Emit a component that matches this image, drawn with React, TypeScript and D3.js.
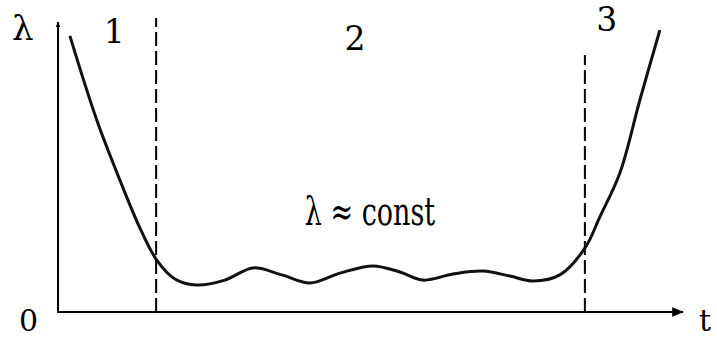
import React from 'react'
import * as d3 from 'd3'

// bathtub curve: failure rate λ over time t
const tValues = [1.9, 6.2, 9.9, 13.1, 15.8, 18.7, 22.2, 26.7, 31.2, 35.8, 40.3, 45.1, 50.4, 54.7, 58.4, 63.2, 68, 72.3, 76, 80.3, 84.3, 86.7, 89.9, 93.1, 96.3]
const lambdaValues = [95.2, 66.2, 45.5, 29, 17.9, 11.4, 9.3, 11, 15.2, 12.8, 10, 13.4, 15.9, 13.8, 11, 13.1, 14.1, 12.4, 10.7, 12.8, 22, 32.8, 47.9, 73.1, 97.2]

// period boundaries and labels
const boundaries = [15.7, 84.3]
const boundaryTops = [101.4, 88.6]
const periodLabels = ['1', '2', '3']
const periodLabelT = [9, 47.5, 87.8]
const periodLabelLambda = [92.8, 90.3, 96.9]

const width = 717
const height = 338

const App = () => {
  const x = d3.scaleLinear().domain([0, 100]).range([58, 683])
  const y = d3.scaleLinear().domain([0, 100]).range([312, 22])

  const points: [number, number][] = tValues.map((t, i) => [t, lambdaValues[i]])
  const line = d3
    .line<[number, number]>()
    .x((d) => x(d[0]))
    .y((d) => y(d[1]))
    .curve(d3.curveCatmullRom.alpha(0.5))

  const serif = 'DejaVu Serif'

  return (
    <svg
      width={width}
      height={height}
      style={{ position: 'absolute', left: 0, top: 0, background: '#fff' }}
    >
      <defs>
        <marker id="arr" viewBox="0 0 10 10" refX="9" refY="5" markerWidth="6" markerHeight="6" orient="auto">
          <path d="M0,1 L10,5 L0,9 Z" fill="#000" />
        </marker>
        <marker id="arrSmall" viewBox="0 0 10 10" refX="9" refY="5" markerWidth="3" markerHeight="3" orient="auto">
          <path d="M0,1 L10,5 L0,9 Z" fill="#000" />
        </marker>
      </defs>

      {/* axes */}
      <line x1={x(0)} y1={y(0)} x2={x(0)} y2={y(100)} stroke="#000" strokeWidth={2} markerEnd="url(#arrSmall)" />
      <line x1={x(0) - 1} y1={y(0)} x2={x(100)} y2={y(0)} stroke="#000" strokeWidth={2} markerEnd="url(#arr)" />

      {/* period boundaries */}
      {boundaries.map((b, i) => (
        <line
          key={i}
          x1={x(b)}
          x2={x(b)}
          y1={y(0)}
          y2={y(boundaryTops[i])}
          stroke="#000"
          strokeWidth={2}
          strokeDasharray="14,5"
        />
      ))}

      <path d={line(points) ?? ''} fill="none" stroke="#111" strokeWidth={3} />

      {periodLabels.map((l, i) => (
        <text key={l} x={x(periodLabelT[i])} y={y(periodLabelLambda[i])} fontFamily={serif} fontSize={33} textAnchor="middle">
          {l}
        </text>
      ))}

      <text x={12} y={40} fontFamily={serif} fontSize={34}>λ</text>
      <g transform="translate(370,225) scale(1,1.45)">
        <text x={0} y={0} fontFamily={serif} fontSize={27} textAnchor="middle">λ ≈ const</text>
      </g>
      <text x={19} y={331} fontFamily={serif} fontSize={30}>0</text>
      <text x={699} y={331} fontFamily={serif} fontSize={30}>t</text>
    </svg>
  )
}

export default App
